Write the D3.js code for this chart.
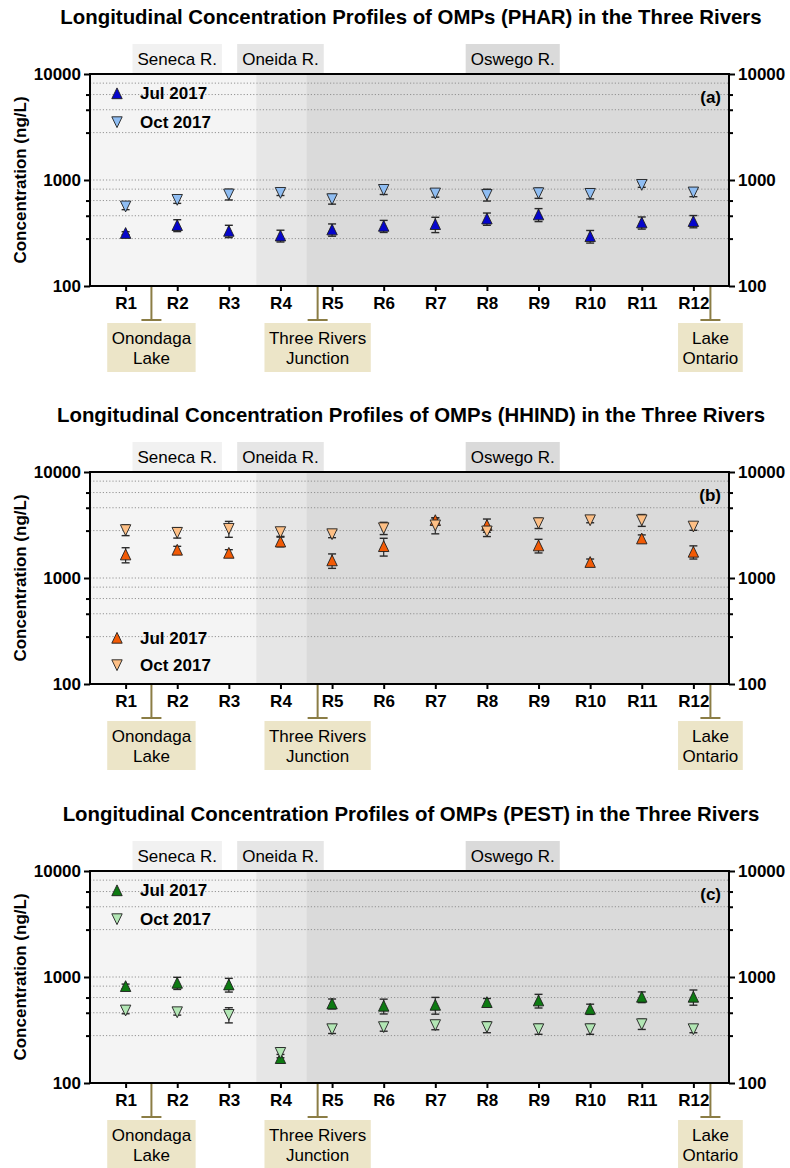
<!DOCTYPE html>
<html>
<head>
<meta charset="utf-8">
<script src="https://cdn.jsdelivr.net/npm/d3@7"></script>
<style>
  body { margin: 0; background: #fff; }
  text { font-family: "Liberation Sans", Arial, sans-serif; }
</style>
</head>
<body>
<svg id="chart" width="790" height="1168"></svg>
<script>
// sampling sites along the rivers
var sites = ['R1', 'R2', 'R3', 'R4', 'R5', 'R6', 'R7', 'R8', 'R9', 'R10', 'R11', 'R12'];
var seasons = ['Jul 2017', 'Oct 2017'];

// PHAR (ng/L)
var pharJul   = [315, 374, 330, 298, 340, 368, 382, 431, 471, 294, 396, 408];
var pharJulSd = [10, 48, 44, 38, 45, 48, 63, 57, 66, 40, 52, 54];
var pharOct   = [565, 652, 733, 759, 662, 810, 749, 726, 754, 743, 903, 766];
var pharOctSd = [40, 50, 85, 45, 70, 80, 60, 93, 83, 80, 50, 70];

// HHIND (ng/L)
var hhindJul   = [1660, 1840, 1720, 2200, 1460, 1990, 3500, 3150, 2020, 1410, 2350, 1760];
var hhindJulSd = [270, 150, 130, 230, 227, 380, 200, 450, 297, 100, 200, 250];
var hhindOct   = [2840, 2680, 2920, 2720, 2600, 2960, 3150, 2760, 3300, 3520, 3520, 3070];
var hhindOctSd = [330, 300, 500, 250, 200, 390, 540, 300, 370, 200, 450, 250];

// PEST (ng/L)
var pestJul   = [817, 878, 846, 171, 560, 533, 544, 577, 598, 499, 648, 648];
var pestJulSd = [40, 115, 125, 15, 60, 85, 98, 50, 88, 55, 75, 106];
var pestOct   = [485, 467, 441, 193, 323, 338, 353, 338, 323, 323, 360, 323];
var pestOctSd = [35, 30, 72, 20, 30, 30, 35, 40, 35, 35, 40, 25];

// y axis
var majorTicks = [100, 1000, 10000];
var minorTicks = [280, 460, 640, 2800, 4600, 6400];
var gridLines  = [280, 460, 640, 820, 1000, 2800, 4600, 6400, 8200];

// river reaches (site index units, 1-based)
var reachNames = ['Seneca R.', 'Oneida R.', 'Oswego R.'];
var reachFrom  = [0.31, 3.53, 4.5];
var reachTo    = [3.53, 4.5, 12.69];
var reachLabelAt = [2, 4, 8.5];
var reachFill  = ['#f4f4f4', '#e6e6e6', '#dadada'];
var reachBox   = ['#f1f1f1', '#e6e6e6', '#dadada'];

// landmarks under the x axis
var markNames = [['Onondaga', 'Lake'], ['Three Rivers', 'Junction'], ['Lake', 'Ontario']];
var markAt    = [1.5, 4.72, 12.33];

var panels = [
    { code: 'PHAR',  tag: '(a)', top: 74,  jul: pharJul,  julSd: pharJulSd,  oct: pharOct,  octSd: pharOctSd,
      julColor: '#0505cc', octColor: '#8fbdf2', legend: 'top' },
    { code: 'HHIND', tag: '(b)', top: 472, jul: hhindJul, julSd: hhindJulSd, oct: hhindOct, octSd: hhindOctSd,
      julColor: '#f25a05', octColor: '#fdbf85', legend: 'bottom' },
    { code: 'PEST',  tag: '(c)', top: 871, jul: pestJul,  julSd: pestJulSd,  oct: pestOct,  octSd: pestOctSd,
      julColor: '#0d7a12', octColor: '#b2e6b4', legend: 'top' }
];

var svg = d3.select('#chart');
var left = 90, right = 729, plotH = 212;

var x = d3.scaleLinear().domain([0.31, 12.69]).range([left, right]);

function tri(up) {
    // triangle centred on its bounding box
    return up ? 'M0,-5.6L5.2,5.2L-5.2,5.2Z' : 'M0,5.6L5.2,-5.2L-5.2,-5.2Z';
}

panels.forEach(function (p) {
    var top = p.top, bottom = top + plotH;
    var y = d3.scaleLog().domain([100, 10000]).range([bottom, top]);
    var g = svg.append('g');

    // title
    g.append('text')
        .attr('x', 411).attr('y', top - 57).attr('dy', '0.35em')
        .attr('text-anchor', 'middle')
        .attr('font-size', 20.4).attr('font-weight', 'bold')
        .text('Longitudinal Concentration Profiles of OMPs (' + p.code + ') in the Three Rivers');

    // reach shading
    reachNames.forEach(function (name, i) {
        g.append('rect')
            .attr('x', x(reachFrom[i])).attr('y', top)
            .attr('width', x(reachTo[i]) - x(reachFrom[i])).attr('height', plotH)
            .attr('fill', reachFill[i]);
        var t = g.append('text')
            .attr('x', x(reachLabelAt[i])).attr('y', top - 15).attr('dy', '0.35em')
            .attr('text-anchor', 'middle').attr('font-size', 17)
            .text(name);
        var w = t.node().getComputedTextLength() + 10;
        g.insert('rect', function () { return t.node(); })
            .attr('x', x(reachLabelAt[i]) - w / 2).attr('y', top - 30)
            .attr('width', w).attr('height', 29)
            .attr('fill', reachBox[i]);
    });

    // dotted grid
    g.selectAll('.grid').data(gridLines).enter().append('line')
        .attr('x1', left).attr('x2', right)
        .attr('y1', function (d) { return y(d); }).attr('y2', function (d) { return y(d); })
        .attr('stroke', '#8a8a8a').attr('stroke-width', 0.9)
        .attr('stroke-dasharray', '1.2,2');

    // landmarks
    markNames.forEach(function (lines, i) {
        var mx = x(markAt[i]);
        g.append('line').attr('x1', mx).attr('x2', mx).attr('y1', bottom).attr('y2', bottom + 34)
            .attr('stroke', '#8b7d45').attr('stroke-width', 2);
        g.append('line').attr('x1', mx - 10).attr('x2', mx + 10).attr('y1', bottom + 34).attr('y2', bottom + 34)
            .attr('stroke', '#8b7d45').attr('stroke-width', 2);
        var box = g.append('rect').attr('fill', '#ece5c8');
        var w = 0;
        lines.forEach(function (s, j) {
            var t = g.append('text')
                .attr('x', mx).attr('y', bottom + 52 + j * 20).attr('dy', '0.35em')
                .attr('text-anchor', 'middle').attr('font-size', 17)
                .text(s);
            w = Math.max(w, t.node().getComputedTextLength());
        });
        w += 9;
        box.attr('x', mx - w / 2).attr('y', bottom + 37).attr('width', w).attr('height', 49);
    });

    // error bars then markers
    var series = [
        { vals: p.jul, sd: p.julSd, color: p.julColor, up: true },
        { vals: p.oct, sd: p.octSd, color: p.octColor, up: false }
    ];
    series.forEach(function (s) {
        var eb = g.append('g');
        s.vals.forEach(function (v, i) {
            var cx = x(i + 1), y1 = y(v + s.sd[i]), y0 = y(Math.max(v - s.sd[i], 101));
            eb.append('line').attr('x1', cx).attr('x2', cx).attr('y1', y0).attr('y2', y1)
                .attr('stroke', '#2a2a2a').attr('stroke-width', 1.2);
            [y0, y1].forEach(function (yy) {
                eb.append('line').attr('x1', cx - 4).attr('x2', cx + 4).attr('y1', yy).attr('y2', yy)
                    .attr('stroke', '#2a2a2a').attr('stroke-width', 1.4);
            });
        });
    });
    series.forEach(function (s) {
        g.selectAll(null).data(s.vals).enter().append('path')
            .attr('d', tri(s.up))
            .attr('transform', function (d, i) { return 'translate(' + x(i + 1) + ',' + y(d) + ')'; })
            .attr('fill', s.color).attr('stroke', '#1e1e1e').attr('stroke-width', 0.9);
    });

    // legend
    var ly = p.legend === 'top' ? [top + 19.5, top + 48] : [bottom - 46, bottom - 19];
    seasons.forEach(function (name, i) {
        g.append('path').attr('d', tri(i === 0))
            .attr('transform', 'translate(117,' + ly[i] + ')')
            .attr('fill', series[i].color).attr('stroke', '#1e1e1e').attr('stroke-width', 0.9);
        g.append('text').attr('x', 140).attr('y', ly[i]).attr('dy', '0.35em')
            .attr('font-size', 17).attr('font-weight', 'bold').text(name);
    });

    // panel tag
    g.append('text').attr('x', 721).attr('y', top + 23).attr('dy', '0.35em')
        .attr('text-anchor', 'end').attr('font-size', 17).attr('font-weight', 'bold')
        .text(p.tag);

    // frame
    g.append('rect').attr('x', left).attr('y', top).attr('width', right - left).attr('height', plotH)
        .attr('fill', 'none').attr('stroke', '#000').attr('stroke-width', 2);

    // axes
    var fmt = d3.format('d');
    g.append('g').attr('transform', 'translate(' + left + ',0)')
        .call(d3.axisLeft(y).tickValues(majorTicks).tickFormat(fmt).tickSize(6).tickPadding(3));
    g.append('g').attr('transform', 'translate(' + right + ',0)')
        .call(d3.axisRight(y).tickValues(majorTicks).tickFormat(fmt).tickSize(6).tickPadding(3));
    g.append('g').attr('transform', 'translate(' + left + ',0)')
        .call(d3.axisLeft(y).tickValues(minorTicks).tickFormat('').tickSize(4));
    g.append('g').attr('transform', 'translate(' + right + ',0)')
        .call(d3.axisRight(y).tickValues(minorTicks).tickFormat('').tickSize(4));
    g.append('g').attr('transform', 'translate(0,' + bottom + ')')
        .call(d3.axisBottom(x).tickValues(d3.range(1, 13)).tickFormat(function (d) { return sites[d - 1]; })
            .tickSize(5).tickPadding(6));

    g.selectAll('.domain').remove();
    g.selectAll('.tick line').attr('stroke', '#000').attr('stroke-width', 2);
    g.selectAll('.tick text').attr('font-size', 17).attr('font-weight', 'bold').attr('fill', '#000')
        .style('font-family', '"Liberation Sans", Arial, sans-serif');

    // y axis title
    g.append('text')
        .attr('transform', 'translate(20,' + (top + plotH / 2) + ') rotate(-90)')
        .attr('dy', '0.35em').attr('text-anchor', 'middle')
        .attr('font-size', 17).attr('font-weight', 'bold')
        .text('Concentration (ng/L)');
});
</script>
</body>
</html>
